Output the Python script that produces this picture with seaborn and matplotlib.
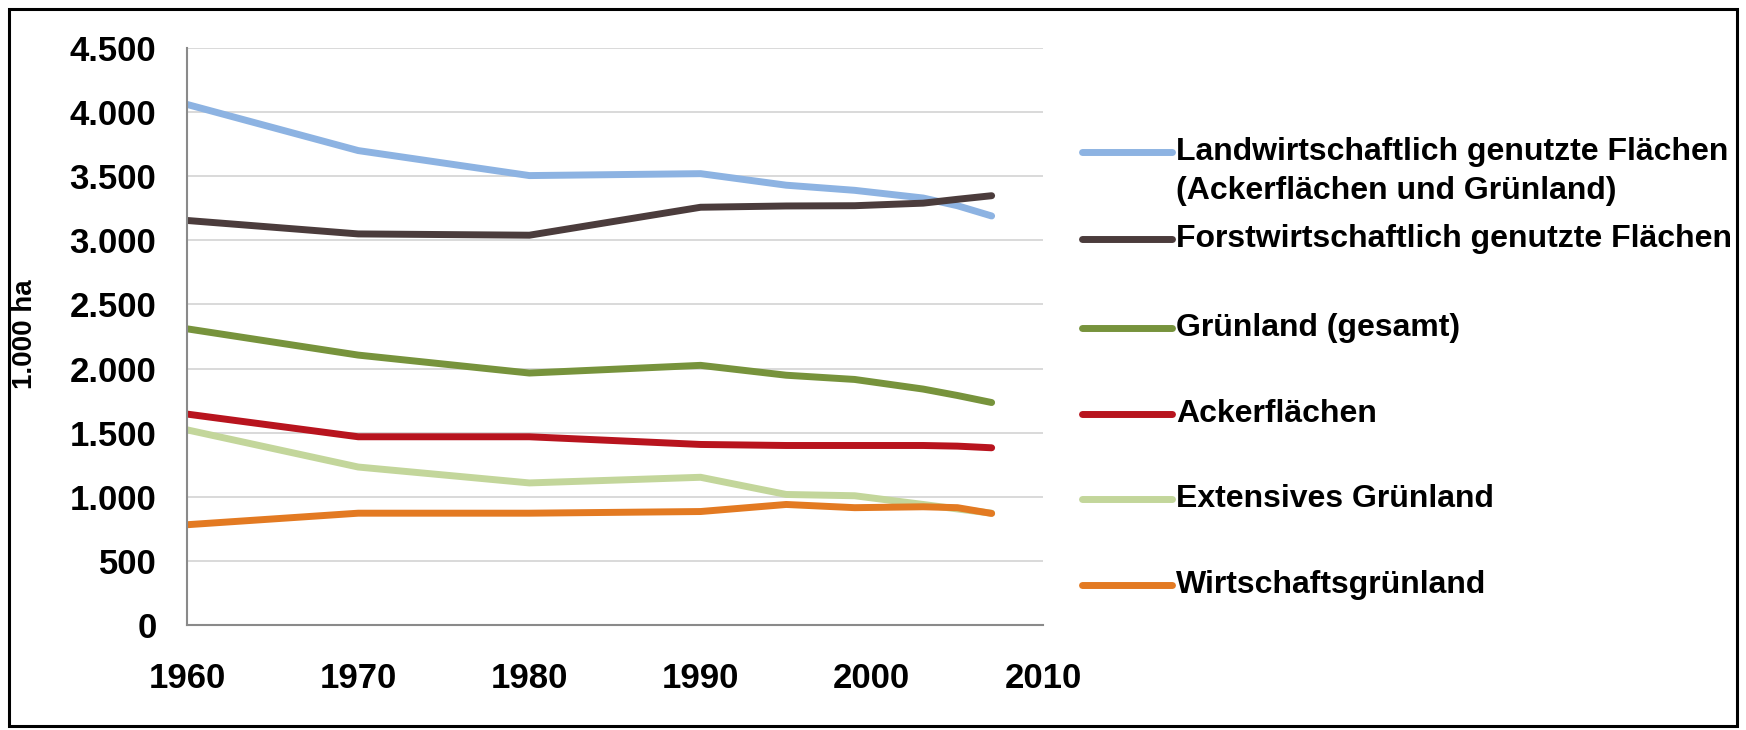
import matplotlib
matplotlib.use("Agg")
import matplotlib.pyplot as plt
import seaborn as sns
import pandas as pd
from matplotlib.lines import Line2D
from matplotlib.patches import Rectangle
from matplotlib.ticker import FuncFormatter

# ---------------- data ----------------
years = [1960, 1970, 1980, 1990, 1995, 1999, 2003, 2005, 2007]
landwirtschaft = [4060, 3700, 3505, 3520, 3430, 3390, 3330, 3270, 3190]
forstwirtschaft = [3155, 3050, 3040, 3258, 3268, 3270, 3290, 3320, 3348]
gruenland = [2310, 2105, 1965, 2025, 1948, 1915, 1840, 1790, 1735]
ackerflaechen = [1645, 1468, 1468, 1408, 1400, 1400, 1400, 1395, 1382]
extensiv = [1522, 1232, 1108, 1152, 1018, 1008, 940, 905, 872]
wirtschaft = [782, 872, 872, 885, 940, 915, 922, 915, 870]

series_names = [
    "Landwirtschaftlich genutzte Flächen (Ackerflächen und Grünland)",
    "Forstwirtschaftlich genutzte Flächen",
    "Grünland (gesamt)",
    "Ackerflächen",
    "Extensives Grünland",
    "Wirtschaftsgrünland",
]
legend_lines = [
    ["Landwirtschaftlich genutzte Flächen", "(Ackerflächen und Grünland)"],
    ["Forstwirtschaftlich genutzte Flächen"],
    ["Grünland (gesamt)"],
    ["Ackerflächen"],
    ["Extensives Grünland"],
    ["Wirtschaftsgrünland"],
]
y_ticks = [0, 500, 1000, 1500, 2000, 2500, 3000, 3500, 4000, 4500]
x_ticks = [1960, 1970, 1980, 1990, 2000, 2010]
y_label = "1.000 ha"

colors = ["#8DB3E2", "#4B3C3C", "#77933C", "#B8141E", "#C3D69B", "#E37A22"]

values = [landwirtschaft, forstwirtschaft, gruenland, ackerflaechen, extensiv, wirtschaft]
df = pd.DataFrame({
    "Jahr": years * len(series_names),
    "Wert": [v for vals in values for v in vals],
    "Serie": [n for n in series_names for _ in years],
})

# ---------------- style ----------------
sns.set_style("white")
FONT = ["Liberation Sans", "DejaVu Sans"]
plt.rcParams["font.family"] = FONT
plt.rcParams["text.color"] = "black"

W, H = 1746, 730
fig = plt.figure(figsize=(W / 100, H / 100), dpi=100)
ax = fig.add_axes([187 / W, 1 - 625 / H, (1043 - 187) / W, (625 - 48) / H])

LW = 5.0
sns.lineplot(data=df, x="Jahr", y="Wert", hue="Serie", hue_order=series_names,
             palette=colors, linewidth=LW, ax=ax, legend=False,
             solid_capstyle="round", solid_joinstyle="round")

ax.set_xlim(1960, 2010)
ax.set_ylim(0, 4500)
ax.set_xticks(x_ticks)
ax.set_yticks(y_ticks)
ax.yaxis.set_major_formatter(FuncFormatter(lambda v, p: f"{int(v):,}".replace(",", ".")))
ax.grid(axis="y", color="#D9D9D9", linewidth=1.4)
ax.grid(axis="x", visible=False)
ax.set_axisbelow(True)
for s in ["top", "right"]:
    ax.spines[s].set_visible(False)
for s in ["left", "bottom"]:
    ax.spines[s].set_color("#8A8A8A")
    ax.spines[s].set_linewidth(1.5)
ax.tick_params(axis="both", which="major", direction="out", length=7, width=1.3,
               color="#8A8A8A", labelsize=25, labelcolor="black")
ax.tick_params(axis="y", pad=15)
ax.tick_params(axis="x", pad=20)
for lab in ax.get_xticklabels() + ax.get_yticklabels():
    lab.set_fontweight("bold")
ax.set_xlabel("")
ax.set_ylabel("")
fig.text(25 / W, 1 - 334 / H, y_label, rotation=90, ha="center", va="center",
         fontsize=20, fontweight="bold", color="black")

# ---------------- legend (manual, right side) ----------------
entry_y = [152, 239, 328, 414, 499, 585]
line_gap = 39
for col, lines, yy in zip(colors, legend_lines, entry_y):
    fig.add_artist(Line2D([1082 / W, 1172 / W], [1 - yy / H, 1 - yy / H],
                          color=col, linewidth=LW, transform=fig.transFigure))
    for i, t in enumerate(lines):
        fig.text(1176 / W, 1 - (yy + i * line_gap) / H, t, ha="left", va="center",
                 fontsize=23, fontweight="bold", color="black")

# ---------------- outer frame ----------------
fig.add_artist(Rectangle((9 / W, 1 - 726 / H), (1737 - 9) / W, (726 - 9) / H,
                         transform=fig.transFigure, fill=False,
                         edgecolor="black", linewidth=2.2))

fig.savefig("out.png", dpi=100, facecolor="white")
